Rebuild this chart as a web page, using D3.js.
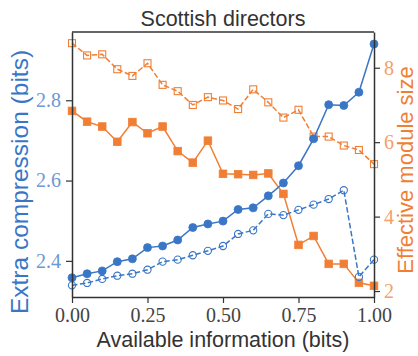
<!DOCTYPE html>
<html>
<head>
<meta charset="utf-8">
<script src="https://cdn.jsdelivr.net/npm/d3@7"></script>
<style>
  html, body { margin: 0; padding: 0; background: #fff; }
  svg { display: block; }
</style>
</head>
<body>
<svg id="chart" width="418" height="356"></svg>
<script>
// Available information (bits), sampled every 0.05
const info = [0.00, 0.05, 0.10, 0.15, 0.20, 0.25, 0.30, 0.35, 0.40, 0.45, 0.50,
              0.55, 0.60, 0.65, 0.70, 0.75, 0.80, 0.85, 0.90, 0.95, 1.00];

// Extra compression (bits), left axis
const compressionSolid = [2.358, 2.368, 2.375, 2.398, 2.405, 2.433, 2.437, 2.452, 2.483, 2.492, 2.499,
                          2.528, 2.532, 2.562, 2.594, 2.637, 2.704, 2.789, 2.787, 2.820, 2.940];
const compressionDashed = [2.339, 2.345, 2.355, 2.363, 2.368, 2.378, 2.398, 2.403, 2.414, 2.425, 2.437,
                           2.467, 2.476, 2.517, 2.514, 2.527, 2.540, 2.554, 2.576, 2.360, 2.403];

// Effective module size, right axis
const moduleSolid = [6.84, 6.55, 6.42, 6.01, 6.54, 6.24, 6.42, 5.76, 5.45, 6.04, 5.15,
                     5.14, 5.12, 5.16, 4.61, 3.24, 3.48, 2.73, 2.73, 2.22, 2.14];
const moduleDashed = [8.66, 8.33, 8.36, 7.96, 7.78, 8.12, 7.54, 7.37, 7.00, 7.21, 7.12,
                      6.89, 7.42, 7.07, 6.66, 6.87, 6.15, 6.15, 5.91, 5.79, 5.41];

const xTicks = [0, 0.25, 0.5, 0.75, 1.0];
const leftTicks = [2.4, 2.6, 2.8];
const rightTicks = [2, 4, 6, 8];

const BLUE = "#3a76c6", BLUE_LIGHT = "#6b98d6";
const ORANGE = "#f07f35", ORANGE_LIGHT = "#f4a06a";
const INK = "#333333";
const SERIF = "'Liberation Serif', 'DejaVu Serif', serif";
const SANS = "'Liberation Sans', Arial, sans-serif";

const m = { left: 72, right: 374, top: 32, bottom: 297 };

const svg = d3.select("#chart");

const x = d3.scaleLinear().domain([0, 1]).range([m.left, m.right]);
const yL = d3.scaleLinear().domain([2.31, 2.97]).range([m.bottom, m.top]);
const yR = d3.scaleLinear().domain([1.84, 8.96]).range([m.bottom, m.top]);

// Title
svg.append("text")
  .attr("x", (m.left + m.right) / 2).attr("y", 26)
  .attr("text-anchor", "middle")
  .style("font-family", SANS).style("font-size", "21.5px").attr("fill", INK)
  .text("Scottish directors");

// Series drawing helpers
function series(values, yScale, color, dashed) {
  const line = d3.line().x((d, i) => x(info[i])).y(d => yScale(d));
  svg.append("path")
    .datum(values)
    .attr("d", line)
    .attr("fill", "none")
    .attr("stroke", color)
    .attr("stroke-width", 1.5)
    .attr("stroke-dasharray", dashed ? "5.5,2.5" : null);
}

function circles(values, yScale, color, open) {
  svg.append("g").selectAll("circle").data(values).join("circle")
    .attr("cx", (d, i) => x(info[i]))
    .attr("cy", d => yScale(d))
    .attr("r", open ? 3.6 : 4)
    .attr("fill", open ? "none" : color)
    .attr("stroke", color)
    .attr("stroke-width", open ? 1.1 : 0.8);
}

function squares(values, yScale, color, open) {
  const s = open ? 7 : 7.6;
  svg.append("g").selectAll("rect").data(values).join("rect")
    .attr("x", (d, i) => x(info[i]) - s / 2)
    .attr("y", d => yScale(d) - s / 2)
    .attr("width", s).attr("height", s)
    .attr("fill", open ? "none" : color)
    .attr("stroke", color)
    .attr("stroke-width", open ? 1.1 : 0.8);
}

// Right-axis series (module size)
series(moduleSolid, yR, ORANGE, false);
squares(moduleSolid, yR, ORANGE, false);
series(moduleDashed, yR, ORANGE, true);
squares(moduleDashed, yR, ORANGE, true);

// Left-axis series (compression)
series(compressionSolid, yL, BLUE, false);
circles(compressionSolid, yL, BLUE, false);
series(compressionDashed, yL, BLUE, true);
circles(compressionDashed, yL, BLUE, true);

// Axes
function styleAxis(g, color) {
  g.select(".domain").attr("stroke", INK).attr("stroke-width", 1.5);
  g.selectAll(".tick line").attr("stroke", INK).attr("stroke-width", 1.2);
  g.selectAll(".tick text").attr("fill", color)
    .style("font-family", SERIF).style("font-size", "20px");
}

const gx = svg.append("g").attr("transform", `translate(0,${m.bottom})`)
  .call(d3.axisBottom(x).tickValues(xTicks).tickFormat(d3.format(".2f"))
    .tickSizeInner(6).tickSizeOuter(0).tickPadding(5));
styleAxis(gx, "#444");

const gl = svg.append("g").attr("transform", `translate(${m.left},0)`)
  .call(d3.axisLeft(yL).tickValues(leftTicks).tickFormat(d3.format(".1f"))
    .tickSizeInner(6).tickSizeOuter(0).tickPadding(5));
styleAxis(gl, BLUE_LIGHT);

const gr = svg.append("g").attr("transform", `translate(${m.right},0)`)
  .call(d3.axisRight(yR).tickValues(rightTicks).tickFormat(d3.format("d"))
    .tickSizeInner(6).tickSizeOuter(0).tickPadding(4));
styleAxis(gr, ORANGE_LIGHT);

// Top spine
svg.append("line")
  .attr("x1", m.left).attr("x2", m.right).attr("y1", m.top).attr("y2", m.top)
  .attr("stroke", INK).attr("stroke-width", 1.5);

// Axis titles
svg.append("text")
  .attr("x", (m.left + m.right) / 2).attr("y", 347)
  .attr("text-anchor", "middle")
  .style("font-family", SANS).style("font-size", "21.5px").attr("fill", INK)
  .text("Available information (bits)");

svg.append("text")
  .attr("transform", "translate(28,182) rotate(-90)")
  .attr("text-anchor", "middle")
  .style("font-family", SANS).style("font-size", "24.5px").attr("fill", BLUE)
  .text("Extra compression (bits)");

svg.append("text")
  .attr("transform", "translate(413,170) rotate(-90)")
  .attr("text-anchor", "middle")
  .style("font-family", SANS).style("font-size", "22px").attr("fill", ORANGE)
  .text("Effective module size");
</script>
</body>
</html>
